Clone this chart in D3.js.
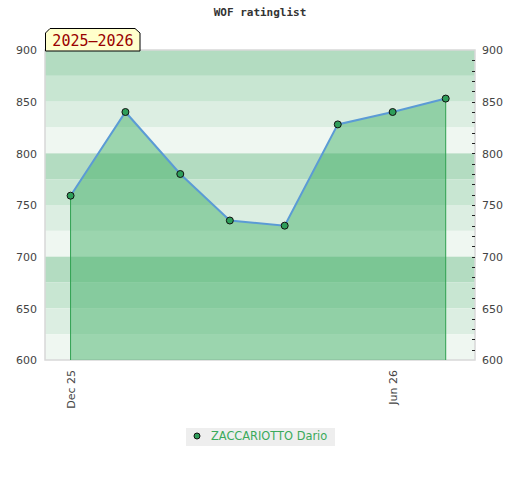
<!DOCTYPE html>
<html><head><meta charset="utf-8">
<script src="https://cdn.jsdelivr.net/npm/d3@7"></script>
<style>body{margin:0;background:#fff}svg{display:block}</style>
</head><body>
<script>
const dates = ["2025-12-01","2026-01-01","2026-02-01","2026-03-01","2026-04-01","2026-05-01","2026-06-01","2026-07-01"];
const ratings = [759, 840, 780, 735, 730, 828, 840, 853];
const xTickDates = ["2025-12-01","2026-06-01"];
const xTickLabels = ["Dec 25","Jun 26"];
const yTicks = [600,650,700,750,800,850,900];
const seriesName = "ZACCARIOTTO Dario";
const seasonLabel = "2025–2026";
const chartTitle = "WOF ratinglist";

const W=520,H=480;
const L=45,R=475,T=50,B=360;
const svg=d3.select("body").append("svg").attr("width",W).attr("height",H);
const parse=d3.utcParse("%Y-%m-%d");
const dd=dates.map(parse);
const x=d3.scaleUtc().domain([parse("2025-11-17"),parse("2026-07-18")]).range([L+0.8,R+0.8]);
const y=d3.scaleLinear().domain([600,900]).range([B,T]);

// bands
const bandCols=["#b3dcc1","#c8e6d2","#dceee2","#eff7f1"];
for(let v=900;v>600;v-=25){
  const i=((900-v)/25)%4;
  svg.append("rect").attr("x",L).attr("width",R-L).attr("y",y(v)).attr("height",y(v-25)-y(v)).attr("fill",bandCols[i]);
}
svg.append("rect").attr("x",L).attr("y",T).attr("width",R-L).attr("height",B-T).attr("fill","none").attr("stroke","#d8d8d8").attr("stroke-width",1.5);

const pts=dd.map((d,i)=>[x(d),y(ratings[i])]);
const area=d3.area().x((d,i)=>x(dd[i])).y0(y(600)).y1(d=>y(d));
svg.append("path").datum(ratings).attr("d",area).attr("fill","rgba(57,172,96,0.46)");
svg.append("line").attr("x1",pts[0][0]).attr("x2",pts[0][0]).attr("y1",pts[0][1]).attr("y2",B).attr("stroke","#2fa050").attr("stroke-width",1);
svg.append("line").attr("x1",pts[7][0]).attr("x2",pts[7][0]).attr("y1",pts[7][1]).attr("y2",B).attr("stroke","#2fa050").attr("stroke-width",1);
const line=d3.line().x((d,i)=>x(dd[i])).y(d=>y(d));
svg.append("path").datum(ratings).attr("d",line).attr("fill","none").attr("stroke","#5b9bd5").attr("stroke-width",2);
svg.selectAll("circle.p").data(ratings).enter().append("circle").attr("cx",(d,i)=>x(dd[i])).attr("cy",d=>y(d)).attr("r",3.5).attr("fill","#2e9e5a").attr("stroke","#111").attr("stroke-width",1);

// y axes
const ax1=svg.append("g").attr("transform",`translate(${L-8},0)`).call(d3.axisLeft(y).tickValues(yTicks).tickSize(0).tickPadding(0));
ax1.select(".domain").remove();
ax1.selectAll("text").attr("font-family","DejaVu Sans").attr("font-size",11).attr("fill","#444").attr("dy","0.35em");
const ax2=svg.append("g").attr("transform",`translate(${R+7},0)`).call(d3.axisRight(y).tickValues(yTicks).tickSize(0).tickPadding(0));
ax2.select(".domain").remove();
ax2.selectAll("text").attr("font-family","DejaVu Sans").attr("font-size",11).attr("fill","#444").attr("dy","0.35em");
const minor=d3.range(610,900,10);
svg.selectAll("line.mt").data(minor).enter().append("line").attr("x1",R-3).attr("x2",R).attr("y1",d=>Math.round(y(d))+0.5).attr("y2",d=>Math.round(y(d))+0.5).attr("stroke","#222");

// x axis
const ax3=svg.append("g").attr("transform",`translate(0,${B+10})`).call(d3.axisBottom(x).tickValues(xTickDates.map(parse)).tickFormat((d,i)=>xTickLabels[i]).tickSize(0).tickPadding(0));
ax3.select(".domain").remove();
ax3.selectAll("text").attr("font-family","DejaVu Sans").attr("font-size",11).attr("fill","#444").attr("transform","rotate(-90)").attr("text-anchor","end").attr("dx",0).attr("dy","0.35em").attr("y",0);

// title
svg.append("text").attr("x",260).attr("y",16).attr("text-anchor","middle").attr("font-family","DejaVu Sans Mono").attr("font-weight","bold").attr("font-size",11).attr("fill","#333").text(chartTitle);

// season label
svg.append("path").attr("d",`M${L+0.5},51 L${L+0.5},33 L${L+5},28.5 L${L+90},28.5 L${L+95},33 L${L+95},51 Z`).attr("fill","#ffffcc").attr("stroke","#000").attr("stroke-width",1);
svg.append("text").attr("x",L+48).attr("y",46).attr("text-anchor","middle").attr("font-family","DejaVu Sans Mono").attr("font-size",15).attr("fill","#990000").text(seasonLabel);

// legend
svg.append("rect").attr("x",186).attr("y",428).attr("width",149).attr("height",18).attr("fill","#eeeeee");
svg.append("circle").attr("cx",197).attr("cy",436).attr("r",3).attr("fill","#2e9e5a").attr("stroke","#111");
svg.append("text").attr("x",211).attr("y",440).attr("font-family","DejaVu Sans").attr("font-size",11.4).attr("fill","#3aaa5a").text(seriesName);
</script>
</body></html>
